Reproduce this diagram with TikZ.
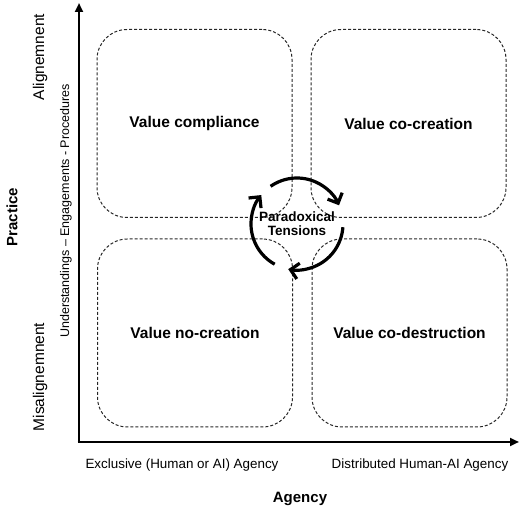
\documentclass[tikz,border=0pt]{standalone}
\usepackage{fontspec}
\setmainfont{Liberation Sans}
\usetikzlibrary{arrows.meta}

\begin{document}
\begin{tikzpicture}[x=1pt,y=1pt,
  quadrant/.style={draw=black!85,line width=1pt,dash pattern=on 3pt off 2pt,rounded corners=30pt,minimum width=195pt,minimum height=188pt,font={\fontsize{15.5}{18}\selectfont\bfseries}},
  axislabel/.style={font={\fontsize{15.5}{18}\selectfont}},
  cyclearrow/.style={line width=3.2pt,-{Straight Barb[length=8pt,width=16pt]}}]

\useasboundingbox (0,0) rectangle (520,512);

\node[quadrant] (compliance) at (194.5,388.5) {Value compliance};
\node[quadrant] (cocreation) at (408.5,388.5) {Value co-creation};
\node[quadrant] (nocreation) at (195,179) {Value no-creation};
\node[quadrant] (codestruction) at (409.5,179) {Value co-destruction};

\coordinate (origin) at (79,70);
\coordinate (ytip) at (79,509);
\coordinate (xtip) at (519,70);
\draw[line width=2.8pt,-{Triangle[length=9pt,width=8pt]}] (origin) -- (ytip);
\draw[line width=2.8pt,-{Triangle[length=9pt,width=8pt]}] ([xshift=-1.4pt]origin) -- (xtip);

\node[font={\fontsize{13.5}{16}\selectfont\bfseries},align=center] (tensions) at (297,288) {Paradoxical\\[-2pt]Tensions};
\draw[cyclearrow] ([shift={(241:46)}]tensions.center) arc[start angle=241,end angle=141,radius=46];
\draw[cyclearrow] ([shift={(125:46)}]tensions.center) arc[start angle=125,end angle=24,radius=46];
\draw[cyclearrow] ([shift={(-4:46)}]tensions.center) arc[start angle=-4,end angle=-101,radius=46];

\node[rotate=90,font={\fontsize{15}{18}\selectfont\bfseries}] (practice) at (12,295) {Practice};
\node[rotate=90,axislabel] (align) at (40,455) {Alignemnent};
\node[rotate=90,axislabel] (misalign) at (40,135) {Misalignemnent};
\node[rotate=90,font={\fontsize{12.5}{15}\selectfont}] (levels) at (66,301) {Understandings – Engagements - Procedures};

\node[font={\fontsize{13.4}{16}\selectfont}] (exclusive) at (182,47) {Exclusive (Human or AI) Agency};
\node[font={\fontsize{13.4}{16}\selectfont}] (distributed) at (420,47) {Distributed Human-AI Agency};
\node[font={\fontsize{15}{18}\selectfont\bfseries}] (agency) at (300,13) {Agency};

\end{tikzpicture}
\end{document}
